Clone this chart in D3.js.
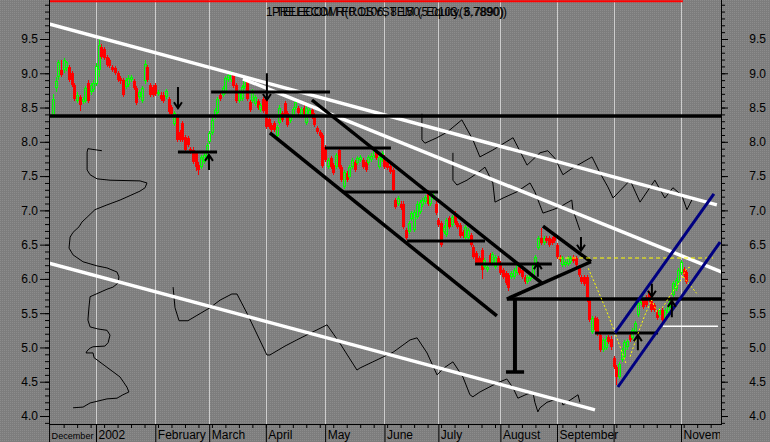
<!DOCTYPE html>
<html><head><meta charset="utf-8">
<script src="https://d3js.org/d3.v7.min.js"></script>
<style>html,body{margin:0;padding:0;background:#808080;overflow:hidden}text{font-family:"Liberation Sans",Arial,sans-serif}</style>
</head><body>
<svg id="c" width="770" height="442"></svg>
<script>
// ---------- DATA (trading-day index 0 = 11 Dec 2001) ----------
const opens = [8.39,8.79,8.95,9.05,9.05,9.07,9.09,9.00,8.83,8.60,
 8.66,8.58,8.60,8.86,8.72,8.76,8.84,9.05,9.38,9.36,
 9.24,9.19,9.09,9.07,9.00,8.93,8.90,8.80,8.83,8.90,
 8.88,8.79,8.65,8.60,8.88,9.09,8.83,8.80,8.83,8.70,
 8.69,8.69,8.65,8.62,8.51,8.26,8.36,8.14,8.27,8.07,
 8.05,7.90,7.88,7.84,7.66,7.63,7.70,7.77,8.00,8.13,
 8.36,8.42,8.68,8.69,8.73,8.90,8.90,8.98,8.83,8.60,
 8.62,8.80,8.88,8.58,8.60,8.55,8.60,8.46,8.62,8.62,
 8.34,8.25,8.27,8.08,8.28,8.42,8.57,8.42,8.30,8.39,
 8.50,8.49,8.39,8.50,8.28,8.39,8.46,8.39,8.20,8.14,
 8.10,7.93,7.63,7.76,7.66,7.63,7.88,7.63,7.34,7.54,
 7.49,7.63,7.70,7.69,7.73,7.73,7.70,7.69,7.74,7.80,
 7.85,7.63,7.73,7.78,7.70,7.64,7.59,7.15,7.10,7.10,
 7.10,6.71,6.69,6.88,6.71,6.90,6.98,7.08,7.12,7.25,
 7.10,7.18,7.10,6.86,6.82,6.68,6.64,6.89,6.79,6.96,
 6.82,6.79,6.68,6.60,6.60,6.64,6.47,6.38,6.30,6.42,
 6.17,6.13,6.35,6.23,6.17,6.30,6.23,6.13,6.09,6.06,
 6.03,6.03,6.09,6.17,6.13,6.03,5.96,6.00,6.03,6.17,
 6.45,6.60,6.52,6.60,6.60,6.58,6.62,6.49,6.32,6.20,
 6.20,6.22,6.25,6.32,6.30,6.17,6.03,6.03,6.03,5.69,
 5.23,5.43,5.42,5.18,4.96,4.99,5.15,5.13,4.85,4.71,
 4.57,4.82,4.86,5.00,5.18,5.14,5.23,5.47,5.65,5.69,
 5.74,5.80,5.69,5.62,5.52,5.47,5.55,5.43,5.50,5.60,
 5.77,5.85,5.96,6.09,6.15,6.10];
const highs = [8.70,8.95,9.20,9.20,9.22,9.18,9.12,9.03,8.86,8.72,
 8.69,8.66,8.82,8.90,8.86,8.90,9.15,9.52,9.42,9.39,
 9.27,9.22,9.12,9.10,9.03,8.96,8.93,8.93,8.97,8.98,
 8.91,8.82,8.76,8.82,9.20,9.12,8.86,8.83,8.86,8.76,
 8.72,8.72,8.77,8.65,8.54,8.45,8.40,8.17,8.30,8.10,
 8.08,7.93,7.92,7.87,7.70,7.81,7.84,7.98,8.16,8.35,
 8.49,8.65,8.74,8.82,8.96,9.00,9.03,9.01,8.86,8.75,
 8.83,8.93,8.91,8.61,8.77,8.68,8.63,8.56,8.65,8.65,
 8.37,8.28,8.30,8.25,8.53,8.45,8.60,8.45,8.39,8.51,
 8.61,8.52,8.51,8.53,8.52,8.49,8.49,8.42,8.23,8.17,
 8.13,7.96,7.76,7.79,7.69,7.84,7.91,7.66,7.59,7.57,
 7.66,7.76,7.73,7.79,7.81,7.76,7.73,7.81,7.83,7.91,
 7.88,7.81,7.87,7.81,7.73,7.67,7.62,7.18,7.21,7.13,
 7.13,6.74,6.85,6.99,7.01,7.13,7.15,7.18,7.23,7.30,
 7.28,7.25,7.13,6.89,6.85,6.79,6.89,6.92,6.93,6.99,
 6.85,6.82,6.71,6.79,6.74,6.67,6.50,6.41,6.33,6.45,
 6.31,6.20,6.38,6.39,6.35,6.33,6.26,6.16,6.12,6.09,
 6.12,6.16,6.23,6.20,6.16,6.06,6.06,6.09,6.23,6.35,
 6.63,6.74,6.63,6.63,6.63,6.61,6.65,6.52,6.35,6.33,
 6.27,6.33,6.33,6.35,6.33,6.20,6.06,6.06,6.06,5.72,
 5.46,5.46,5.45,5.21,5.14,5.16,5.18,5.16,4.88,4.74,
 4.79,4.99,5.11,5.13,5.21,5.28,5.39,5.68,5.80,5.72,
 5.77,5.83,5.72,5.65,5.55,5.58,5.58,5.58,5.65,5.72,
 5.97,6.01,6.16,6.28,6.18,6.13];
const lows = [8.35,8.72,8.90,8.95,9.00,9.04,8.87,8.80,8.59,8.57,
 8.45,8.55,8.57,8.57,8.69,8.73,8.81,8.95,9.21,9.19,
 9.09,9.07,9.02,8.97,8.87,8.85,8.66,8.77,8.80,8.87,
 8.76,8.54,8.62,8.57,8.85,8.87,8.66,8.66,8.67,8.67,
 8.59,8.57,8.62,8.41,8.37,8.23,8.00,8.00,8.00,7.85,
 7.92,7.82,7.67,7.57,7.52,7.60,7.67,7.74,7.97,8.10,
 8.33,8.39,8.59,8.66,8.70,8.87,8.87,8.78,8.57,8.57,
 8.59,8.77,8.59,8.43,8.57,8.52,8.47,8.43,8.42,8.19,
 8.19,8.14,8.14,8.05,8.25,8.29,8.36,8.22,8.27,8.36,
 8.47,8.39,8.36,8.38,8.25,8.36,8.34,8.22,8.11,8.05,
 7.62,7.71,7.60,7.60,7.51,7.60,7.60,7.41,7.31,7.41,
 7.46,7.60,7.56,7.66,7.70,7.60,7.56,7.66,7.71,7.77,
 7.73,7.60,7.70,7.60,7.59,7.53,7.27,7.02,7.07,7.01,
 6.73,6.57,6.66,6.85,6.68,6.87,6.95,7.05,7.09,7.07,
 7.07,7.15,6.93,6.76,6.46,6.65,6.61,6.73,6.76,6.79,
 6.73,6.59,6.59,6.57,6.57,6.46,6.29,6.20,6.20,6.00,
 6.14,6.10,6.20,6.20,6.14,6.20,6.06,6.00,5.91,5.82,
 6.00,6.00,6.06,6.06,6.00,5.93,5.93,5.97,6.00,6.14,
 6.42,6.49,6.49,6.52,6.47,6.49,6.52,6.29,6.25,6.17,
 6.17,6.19,6.22,6.23,6.17,6.03,5.93,5.89,5.66,5.37,
 5.20,5.22,5.17,4.93,4.93,4.96,5.05,4.97,4.69,4.45,
 4.54,4.79,4.83,4.97,5.08,5.11,5.20,5.44,5.62,5.56,
 5.59,5.66,5.52,5.52,5.40,5.44,5.37,5.40,5.47,5.57,
 5.74,5.82,5.93,6.06,6.03,5.92];
const closes = [8.62,8.88,9.16,8.98,9.19,9.16,8.90,8.83,8.62,8.69,
 8.54,8.62,8.79,8.60,8.83,8.86,9.10,9.41,9.24,9.22,
 9.12,9.10,9.05,9.00,8.90,8.88,8.69,8.90,8.93,8.95,
 8.79,8.57,8.73,8.79,9.14,8.90,8.69,8.69,8.70,8.73,
 8.62,8.60,8.74,8.44,8.40,8.42,8.03,8.03,8.03,7.88,
 7.95,7.85,7.70,7.63,7.59,7.78,7.81,7.95,8.13,8.32,
 8.46,8.62,8.62,8.79,8.93,8.97,9.00,8.81,8.60,8.72,
 8.80,8.90,8.62,8.46,8.74,8.65,8.50,8.53,8.45,8.22,
 8.22,8.17,8.17,8.22,8.50,8.32,8.39,8.25,8.36,8.48,
 8.58,8.42,8.48,8.41,8.49,8.46,8.37,8.25,8.14,8.08,
 7.65,7.74,7.73,7.63,7.54,7.81,7.63,7.44,7.56,7.44,
 7.63,7.73,7.59,7.76,7.78,7.63,7.59,7.78,7.80,7.88,
 7.76,7.78,7.84,7.63,7.62,7.56,7.30,7.05,7.18,7.04,
 6.76,6.60,6.82,6.96,6.98,7.10,7.12,7.15,7.20,7.10,
 7.25,7.22,6.96,6.79,6.49,6.76,6.86,6.76,6.90,6.82,
 6.76,6.62,6.62,6.76,6.71,6.49,6.32,6.23,6.23,6.13,
 6.28,6.17,6.23,6.36,6.32,6.23,6.09,6.03,5.94,5.87,
 6.09,6.13,6.20,6.09,6.03,5.96,6.03,6.06,6.20,6.32,
 6.60,6.52,6.60,6.55,6.50,6.52,6.55,6.32,6.28,6.30,
 6.24,6.30,6.30,6.26,6.20,6.06,5.96,5.92,5.69,5.40,
 5.43,5.25,5.20,4.96,5.11,5.13,5.08,5.00,4.72,4.57,
 4.76,4.96,5.08,5.10,5.11,5.25,5.36,5.65,5.77,5.59,
 5.62,5.69,5.55,5.55,5.43,5.55,5.40,5.55,5.62,5.69,
 5.94,5.98,6.13,6.25,6.06,5.95];

// month boundaries (trading-day index) and labels
const monthIdx = [-1.4,16,38,58,79,101,123,143,166,187,208,233];
const monthLabels = ["December","2002","February","March","April","May","June","July","August","September","","November"];
const yMajor = [4.0,4.5,5.0,5.5,6.0,6.5,7.0,7.5,8.0,8.5,9.0,9.5];
const titleA = "1 TELECOM R(0.1106, 8.150, Equity(3,7890))";
const titleB = "PRELECOM FROSYSTEM (5.0103, 6.7890)";

// annotations in data space: [index1, value1, index2, value2]
const whiteTrends = [[-1.4,9.72,246.3,7.08],[70.5,8.92,248.2,6.10],[-1.4,6.23,201.1,4.09]];
const whiteThin = [[226.3,5.31,246.7,5.31]];
const blackTrends = [[-1.4,8.377,248.2,8.377],[168.4,5.707,248.2,5.707],[96.1,8.61,181.4,5.94],
  [80.5,8.13,164.7,5.46],[168.4,5.707,199.6,6.25],[181.8,6.77,199.6,6.25]];
const supports = [[58.7,8.727,102.8,8.727],[46.4,7.851,60.9,7.851],[100.9,7.91,125.4,7.91],
  [107.6,7.268,142.9,7.268],[131.4,6.553,160.3,6.553],[156.6,6.218,185.1,6.218],[201.1,5.211,224.5,5.211]];
const tMarkStem = [171.4,5.707,171.4,4.642];
const tMarkBase = [168.1,4.642,174.8,4.642];
const blueTrends = [[208.5,5.211,245.2,7.239],[209.6,4.423,247.5,6.538]];
const yellowLevel = [[187.4,6.305,244.9,6.305]];
const redBar = [-1.4,233.7,10.05];
// arrows: [index, tailValue, headValue]
const arrows = [[46.4,8.80,8.49],[79.4,9.00,8.61],[57.9,7.59,7.81],[195.9,6.61,6.41],
  [179.9,6.03,6.23],[222.2,5.93,5.74],[229.6,5.44,5.68],[217.0,4.96,5.18]];
const zig1 = [[136.9,8.41],[136.9,8.03],[138.0,7.98],[142.5,8.06],[146.2,8.14],[151.7,8.32],[155.8,8.03],[158.4,7.78],[163.2,7.88],[170.7,8.06],[175.9,7.66],[180.7,7.84],[183.6,7.87],[186.2,7.76],[189.2,7.52],[192.9,7.62],[200.0,7.78],[202.9,7.55],[205.9,7.34],[207.8,7.18],[214.1,7.44],[217.8,7.12],[223.3,7.44],[227.0,7.18],[230.0,7.33],[233.3,7.22],[235.2,7.01],[237.4,7.18]];
const zig2 = [[148.4,7.84],[148.4,7.44],[149.9,7.37],[153.6,7.44],[157.7,7.55],[160.3,7.63],[163.2,7.40],[164.0,7.12],[167.0,7.18],[172.1,7.27],[177.0,7.40],[178.8,7.27],[181.8,6.96],[185.5,7.01],[188.1,7.05],[192.5,7.15],[192.9,7.01],[195.5,6.71]];
const zig3 = [[44.6,5.88],[45.3,5.58],[46.8,5.39],[50.1,5.39],[58.3,5.58],[62.0,5.69],[66.4,5.78],[68.3,5.78],[72.0,5.50],[79.4,4.89],[80.5,4.89],[86.1,5.02],[90.5,5.11],[101.7,5.33],[106.5,5.06],[112.8,4.67],[113.9,4.70],[118.7,4.79],[126.2,4.93],[132.5,5.11],[135.1,5.14],[138.8,4.92],[142.5,4.60],[144.3,4.67],[145.4,4.71],[148.4,4.79],[152.1,4.57],[154.7,4.31],[155.8,4.28],[158.4,4.35],[164.7,4.48],[168.4,4.54],[170.7,4.41],[172.5,4.26],[175.9,4.32],[178.1,4.34],[178.8,4.20],[179.9,4.06],[180.7,4.12],[183.3,4.20],[185.5,4.23],[188.8,4.23],[189.2,4.16],[190.7,4.20],[194.8,4.31],[195.5,4.20]];
const profile = [[18.2,7.87],[13.0,7.90],[12.7,7.85],[12.7,7.59],[13.8,7.52],[16.4,7.46],[21.2,7.44],[32.3,7.43],[34.9,7.40],[34.2,7.33],[32.3,7.28],[24.9,7.15],[20.1,7.08],[15.6,7.01],[12.7,6.90],[10.8,6.83],[9.7,6.76],[7.5,6.68],[6.4,6.61],[6.0,6.45],[7.5,6.35],[11.2,6.25],[16.4,6.19],[20.1,6.16],[23.8,6.10],[24.5,6.03],[24.2,5.94],[22.3,5.88],[20.1,5.85],[13.8,5.74],[13.4,5.59],[13.0,5.40],[13.8,5.30],[16.7,5.27],[20.1,5.25],[21.2,5.18],[20.5,5.07],[19.3,5.02],[14.9,5.01],[13.8,4.99],[12.7,4.95],[12.3,4.92],[14.9,4.92],[15.3,4.85],[20.1,4.71],[24.9,4.57],[27.5,4.42],[28.2,4.35],[26.0,4.31],[23.8,4.26],[20.1,4.25],[13.8,4.19],[11.2,4.13],[7.5,4.12]];
const yellow1 = [[198.6,6.155],[202.9,5.765],[206.0,5.473],[210.4,5.011],[212.8,4.744]];
const yellow2 = [[214.1,4.865],[217.1,5.207],[219.6,5.473],[222.1,5.692],[224.0,5.522],[226.4,5.595],[229.5,5.790],[232.6,5.959],[235.1,6.155],[236.9,6.178]];
const yellow3 = [[233.8,6.032],[236.3,5.911],[238.8,5.790]];

// ---------- LAYOUT ----------
const W=770,H=442,L=49,R=722,T=0,B=424;
const x = d3.scaleLinear().domain([16,233]).range([96,681]);
const y = d3.scaleLinear().domain([4,9.5]).range([416,39]);
const svg = d3.select("#c");
const defs = svg.append("defs");
const pat = defs.append("pattern").attr("id","dots").attr("width",2).attr("height",2).attr("patternUnits","userSpaceOnUse");
pat.append("rect").attr("width",2).attr("height",2).attr("fill","#7d7d7d");
pat.append("rect").attr("width",1).attr("height",1).attr("fill","#8c8c8c");
defs.append("clipPath").attr("id","plot").append("rect").attr("x",L).attr("y",T).attr("width",R-L).attr("height",B-T);
defs.append("clipPath").attr("id","xlab").append("rect").attr("x",L).attr("y",B).attr("width",720-L).attr("height",H-B);
svg.append("rect").attr("width",W).attr("height",H).attr("fill","url(#dots)");

const plot = svg.append("g").attr("clip-path","url(#plot)");
// month gridlines
plot.selectAll("line.grid").data(monthIdx.slice(1)).join("line")
  .attr("x1",d=>Math.round(x(d))+0.5).attr("x2",d=>Math.round(x(d))+0.5)
  .attr("y1",T).attr("y2",B).attr("stroke","#cdcdcd").attr("stroke-width",1);
// top red bar
plot.append("line").attr("x1",x(redBar[0])).attr("x2",x(redBar[1])).attr("y1",y(redBar[2])).attr("y2",y(redBar[2]))
  .attr("stroke","#ff0000").attr("stroke-width",2);

// candles
const RED="#ff0000", GREEN="#00ff00";
const cg = plot.append("g");
d3.range(opens.length).forEach(i=>{
  const cx = Math.round(x(i));
  const o=opens[i], c=closes[i], up=c>=o;
  const yt = Math.round(y(Math.max(o,c))), yb = Math.max(Math.round(y(Math.min(o,c))), yt+1);
  const yh = Math.round(y(highs[i])), yl = Math.round(y(lows[i]));
  if(up){
    cg.append("line").attr("x1",cx+0.5).attr("x2",cx+0.5).attr("y1",yh).attr("y2",yt).attr("stroke",GREEN);
    cg.append("line").attr("x1",cx+0.5).attr("x2",cx+0.5).attr("y1",yb).attr("y2",yl).attr("stroke",GREEN);
    cg.append("rect").attr("x",cx-0.5).attr("y",yt+0.5).attr("width",2).attr("height",Math.max(yb-yt-1,1))
      .attr("fill","none").attr("stroke",GREEN).attr("stroke-width",1);
  } else {
    cg.append("line").attr("x1",cx+0.5).attr("x2",cx+0.5).attr("y1",yh).attr("y2",yl).attr("stroke",RED);
    cg.append("rect").attr("x",cx-1).attr("y",yt).attr("width",3).attr("height",yb-yt).attr("fill",RED);
  }
});

// annotations
const seg = (g,data,color,w,dash)=>g.selectAll(null).data(data).join("line")
  .attr("x1",d=>x(d[0])).attr("y1",d=>y(d[1])).attr("x2",d=>x(d[2])).attr("y2",d=>y(d[3]))
  .attr("stroke",color).attr("stroke-width",w).attr("stroke-dasharray",dash||null);
const line = d3.line().x(d=>x(d[0])).y(d=>y(d[1]));
const ag = plot.append("g");
[zig1,zig2,zig3,profile].forEach(p=>ag.append("path").attr("d",line(p)).attr("fill","none").attr("stroke","#000").attr("stroke-width",1));
seg(ag,whiteTrends,"#ffffff",3.5);
seg(ag,whiteThin,"#ffffff",1.5);
seg(ag,blackTrends,"#000000",3.5);
seg(ag,supports,"#000000",3);
seg(ag,[tMarkStem],"#000000",4);
seg(ag,[tMarkBase],"#000000",3.5);
seg(ag,yellowLevel,"#ffff00",1,"4,3");
[yellow1,yellow2,yellow3].forEach(p=>ag.append("path").attr("d",line(p)).attr("fill","none").attr("stroke","#ffff00").attr("stroke-width",1).attr("stroke-dasharray","2,2"));
seg(ag,blueTrends,"#000080",3);
arrows.forEach(([i,t,h])=>{
  const X=x(i), Yt=y(t), Yh=y(h), dir=Yh>Yt?1:-1;
  ag.append("path").attr("d",`M${X},${Yt}L${X},${Yh}M${X-4},${Yh-6*dir}L${X},${Yh}L${X+4},${Yh-6*dir}`)
    .attr("fill","none").attr("stroke","#000").attr("stroke-width",2);
});

// axes
const axG = svg.append("g");
axG.append("line").attr("x1",L+0.5).attr("x2",L+0.5).attr("y1",T).attr("y2",B+1).attr("stroke","#000");
axG.append("line").attr("x1",R-0.5).attr("x2",R-0.5).attr("y1",T).attr("y2",B+1).attr("stroke","#000");
axG.append("line").attr("x1",L).attr("x2",R).attr("y1",B+0.5).attr("y2",B+0.5).attr("stroke","#000");
const yMinor = d3.range(39,101).map(k=>k/10);
const styleAxis = g=>{g.select(".domain").remove();g.selectAll("line").attr("stroke","#000");g.selectAll("text").attr("fill","#000").style("font-size","12px").style("font-family","'Liberation Sans',Arial,sans-serif");};
axG.append("g").attr("transform",`translate(${L},0)`).call(d3.axisLeft(y).tickValues(yMinor).tickSize(4).tickFormat("")).call(styleAxis);
axG.append("g").attr("transform",`translate(${L},0)`).call(d3.axisLeft(y).tickValues(yMajor).tickSize(9).tickPadding(2).tickFormat(d3.format(".1f"))).call(styleAxis);
axG.append("g").attr("transform",`translate(${R-1},0)`).call(d3.axisRight(y).tickValues(yMinor).tickSize(4).tickFormat("")).call(styleAxis);
axG.append("g").attr("transform",`translate(${R-1},0)`).call(d3.axisRight(y).tickValues(yMajor).tickSize(7).tickFormat(d3.format(".1f"))).call(styleAxis)
  .selectAll("text").attr("x",767-R).attr("text-anchor","end");
// bottom axis
const weekTicks = d3.range(4,249,5);
axG.append("g").attr("transform",`translate(0,${B})`).call(d3.axisBottom(x).tickValues(weekTicks).tickSize(4).tickFormat("")).call(styleAxis);
const xb = axG.append("g").attr("clip-path","url(#xlab)").append("g").attr("transform",`translate(0,${B})`)
  .call(d3.axisBottom(x).tickValues(monthIdx).tickSize(18).tickFormat((d,k)=>monthLabels[k])).call(styleAxis);
xb.selectAll("text").attr("x",2).attr("y",15).attr("dy",0).attr("text-anchor","start");
// first (partial-month) label shrunk to fit before the 2002 separator
xb.selectAll(".tick").filter((d,k)=>k===0).select("text").style("font-size","9.5px")
  .attr("textLength",x(monthIdx[1])-x(monthIdx[0])-5).attr("lengthAdjust","spacingAndGlyphs");

// title: two overprinted strings in one text element
const tt = svg.append("text").attr("y",16).style("font-size","12px").attr("fill","#000");
tt.append("tspan").attr("x",266).attr("textLength",241).attr("lengthAdjust","spacingAndGlyphs").text(titleA);
tt.append("tspan").attr("x",272).attr("textLength",232).attr("lengthAdjust","spacingAndGlyphs").text(titleB);
</script>
</body></html>
